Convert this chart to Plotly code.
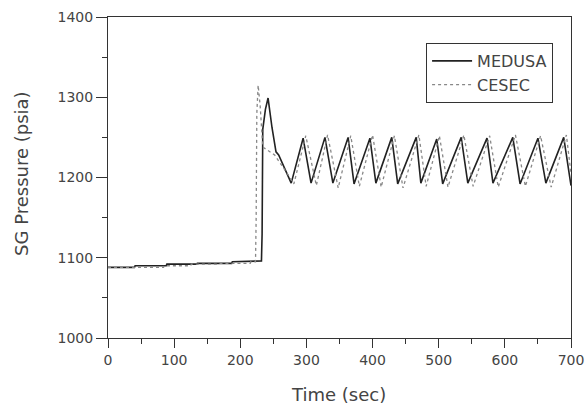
import plotly.graph_objects as go

# MEDUSA series (time in sec, pressure in psia)
medusa_t = [0, 40, 41, 88, 89, 134, 135, 187, 188, 232, 233, 234, 238, 242, 248, 254, 258, 277,
            295, 307, 328, 340, 363, 372, 396, 405, 429, 438, 466, 473, 497, 506, 534, 544,
            573, 582, 612, 623, 650, 662, 689, 700]
medusa_p = [1088, 1088, 1090, 1090, 1092, 1092, 1093, 1093, 1095, 1096, 1130, 1260, 1285, 1299, 1262, 1232, 1228, 1193,
            1249, 1193, 1250, 1193, 1250, 1192, 1249, 1193, 1250, 1192, 1250, 1193, 1248, 1192, 1250, 1193,
            1249, 1193, 1250, 1192, 1249, 1193, 1250, 1190]

# CESEC series
cesec_t = [0, 84, 85, 125, 126, 165, 166, 215, 216, 223, 224, 225, 227, 230, 234, 252, 271, 281,
           299, 315, 332, 348, 367, 380, 400, 413, 433, 446, 470, 481, 501, 514, 538, 552,
           577, 590, 616, 631, 654, 670, 693, 700]
cesec_p = [1088, 1088, 1090, 1090, 1092, 1092, 1093, 1093, 1095, 1095, 1150, 1280, 1315, 1290, 1238, 1228, 1205, 1192,
           1252, 1190, 1253, 1187, 1252, 1189, 1253, 1188, 1252, 1187, 1253, 1189, 1252, 1188, 1253, 1189,
           1252, 1188, 1253, 1189, 1252, 1188, 1253, 1205]

x_ticks = [0, 100, 200, 300, 400, 500, 600, 700]
y_ticks = [1000, 1100, 1200, 1300, 1400]
x_title = "Time (sec)"
y_title = "SG Pressure (psia)"

FONT = "DejaVu Sans"
AX = "#333333"
TXT = "#444444"

fig = go.Figure()
fig.add_trace(go.Scatter(x=medusa_t, y=medusa_p, mode="lines", name="MEDUSA",
                         line=dict(color="#222222", width=1.6)))
fig.add_trace(go.Scatter(x=cesec_t, y=cesec_p, mode="lines", name="CESEC",
                         line=dict(color="#888888", width=1.3, dash="dot")))

fig.update_layout(
    width=585, height=406,
    margin=dict(l=108, r=14, t=17, b=68, autoexpand=False),
    paper_bgcolor="white", plot_bgcolor="white",
    font=dict(family=FONT, color=TXT),
    showlegend=True,
    legend=dict(x=0.687, y=0.919, xanchor="left", yanchor="top",
                bordercolor=AX, borderwidth=1, bgcolor="white",
                font=dict(family=FONT, size=16, color=TXT),
                itemwidth=40, tracegroupgap=0),
    annotations=[
        dict(text=x_title, xref="paper", yref="paper", x=0.497, y=-0.1745,
             xanchor="center", yanchor="middle", showarrow=False,
             font=dict(size=18, family=FONT, color=TXT)),
        dict(text=y_title, xref="paper", yref="paper", x=-0.188, y=0.514,
             xanchor="center", yanchor="middle", showarrow=False, textangle=-90,
             font=dict(size=18, family=FONT, color=TXT)),
    ],
)
fig.update_xaxes(
    range=[0, 700], tickvals=x_ticks, ticktext=[str(v) for v in x_ticks],
    automargin=False,
    showgrid=False, zeroline=False, showline=True, linecolor=AX, linewidth=1, mirror=True,
    ticks="outside", ticklen=9, tickcolor=AX,
    minor=dict(dtick=50, ticks="outside", ticklen=5, tickcolor=AX, showgrid=False),
    tickfont=dict(size=14, family=FONT, color=TXT),
)
fig.update_yaxes(
    range=[1000, 1400], tickvals=y_ticks, ticktext=[str(v) for v in y_ticks],
    automargin=False,
    showgrid=False, zeroline=False, showline=True, linecolor=AX, linewidth=1, mirror=True,
    ticks="outside", ticklen=11, tickcolor=AX,
    minor=dict(dtick=50, ticks="outside", ticklen=5, tickcolor=AX, showgrid=False),
    tickfont=dict(size=14, family=FONT, color=TXT),
)

fig.write_html("out.html", config={"displayModeBar": False},
               post_script="document.body.style.margin='0';document.body.style.overflow='hidden';")
